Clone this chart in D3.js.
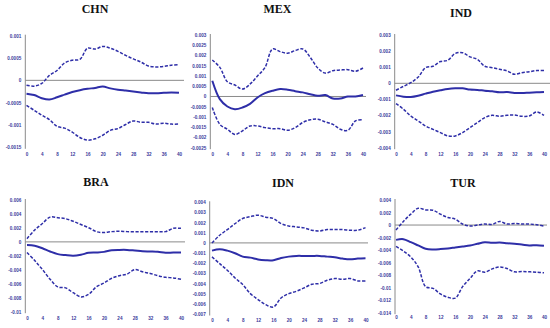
<!DOCTYPE html>
<html>
<head>
<meta charset="utf-8">
<script src="https://cdn.jsdelivr.net/npm/d3@7/dist/d3.min.js"></script>
<style>
  body { margin: 0; background: #fff; }
  svg { display: block; }
  .tick text { font-family: "Liberation Sans", Arial, sans-serif; font-weight: bold; font-size: 4.6px; fill: #3a3a9c; }
  .title { font-family: "Liberation Serif", "Times New Roman", serif; font-weight: bold; font-size: 12px; fill: #111; }
</style>
</head>
<body>
<svg id="chart" width="550" height="328"></svg>
<script>
// horizon (periods after the shock), read every 2 steps
var periods = [0, 2, 4, 6, 8, 10, 12, 14, 16, 18, 20, 22, 24, 26, 28, 30, 32, 34, 36, 38, 40];
var xTicks = [0, 4, 8, 12, 16, 20, 24, 28, 32, 36, 40];

var countries = ["CHN", "MEX", "IND", "BRA", "IDN", "TUR"];

var chnMean  = [-0.00030, -0.00033, -0.00040, -0.00043, -0.00038, -0.00032, -0.00026, -0.00022, -0.00019, -0.00017, -0.00014, -0.00018, -0.00021, -0.00023, -0.00025, -0.00027, -0.00029, -0.00029, -0.00028, -0.00027, -0.00028];
var chnUpper = [-0.00011, -0.00013, -0.00007, 0.00011, 0.00022, 0.00039, 0.00045, 0.00047, 0.00072, 0.00070, 0.00076, 0.00072, 0.00065, 0.00056, 0.00048, 0.00041, 0.00032, 0.00030, 0.00031, 0.00034, 0.00035];
var chnLower = [-0.00056, -0.00067, -0.00078, -0.00088, -0.00103, -0.00107, -0.00116, -0.00128, -0.00134, -0.00131, -0.00123, -0.00112, -0.00108, -0.00099, -0.00091, -0.00094, -0.00094, -0.00098, -0.00096, -0.00098, -0.00098];
var chnTicks = [0.001, 0.0005, 0, -0.0005, -0.001, -0.0015];

var mexMean  = [0.00077, -0.00013, -0.00049, -0.00062, -0.00054, -0.00036, -0.00005, 0.00016, 0.00028, 0.00036, 0.00033, 0.00026, 0.00020, 0.00011, 0.00003, 0.00007, -0.00010, -0.00010, 0.00000, 0.00000, 0.00007];
var mexUpper = [0.00178, 0.00142, 0.00072, 0.00056, 0.00036, 0.00060, 0.00100, 0.00142, 0.00232, 0.00219, 0.00211, 0.00224, 0.00232, 0.00191, 0.00139, 0.00114, 0.00126, 0.00129, 0.00131, 0.00123, 0.00139];
var mexLower = [-0.00054, -0.00136, -0.00160, -0.00185, -0.00168, -0.00144, -0.00144, -0.00152, -0.00157, -0.00157, -0.00165, -0.00152, -0.00127, -0.00114, -0.00111, -0.00124, -0.00136, -0.00160, -0.00165, -0.00119, -0.00114];
var mexTicks = [0.003, 0.0025, 0.002, 0.0015, 0.001, 0.0005, 0, -0.0005, -0.001, -0.0015, -0.002, -0.0025];

var indMean  = [-0.00075, -0.00083, -0.00085, -0.00077, -0.00064, -0.00052, -0.00043, -0.00035, -0.00031, -0.00031, -0.00039, -0.00041, -0.00046, -0.00050, -0.00056, -0.00054, -0.00060, -0.00060, -0.00058, -0.00056, -0.00054];
var indUpper = [-0.00043, -0.00019, 0.00004, 0.00039, 0.00097, 0.00106, 0.00135, 0.00143, 0.00185, 0.00190, 0.00164, 0.00149, 0.00106, 0.00097, 0.00087, 0.00077, 0.00056, 0.00066, 0.00072, 0.00079, 0.00079];
var indLower = [-0.00126, -0.00161, -0.00203, -0.00234, -0.00265, -0.00286, -0.00306, -0.00327, -0.00327, -0.00306, -0.00275, -0.00244, -0.00213, -0.00199, -0.00205, -0.00199, -0.00197, -0.00205, -0.00203, -0.00178, -0.00199];
var indTicks = [0.003, 0.002, 0.001, 0, -0.001, -0.002, -0.003, -0.004];

var braMean  = [-0.00046, -0.00055, -0.00092, -0.00138, -0.00175, -0.00189, -0.00198, -0.00184, -0.00157, -0.00152, -0.00143, -0.00120, -0.00115, -0.00115, -0.00124, -0.00134, -0.00138, -0.00143, -0.00157, -0.00152, -0.00152];
var braUpper = [0.00046, 0.00170, 0.00263, 0.00355, 0.00346, 0.00332, 0.00295, 0.00249, 0.00203, 0.00147, 0.00134, 0.00147, 0.00152, 0.00147, 0.00147, 0.00147, 0.00147, 0.00147, 0.00147, 0.00194, 0.00194];
var braLower = [-0.00152, -0.00267, -0.00396, -0.00535, -0.00645, -0.00659, -0.00728, -0.00788, -0.00751, -0.00645, -0.00590, -0.00521, -0.00484, -0.00461, -0.00396, -0.00429, -0.00452, -0.00484, -0.00507, -0.00516, -0.00535];
var braTicks = [0.006, 0.004, 0.002, 0, -0.002, -0.004, -0.006, -0.008, -0.01];

var idnMean  = [-0.00076, -0.00062, -0.00076, -0.00102, -0.00135, -0.00145, -0.00164, -0.00171, -0.00171, -0.00148, -0.00135, -0.00128, -0.00128, -0.00128, -0.00128, -0.00135, -0.00141, -0.00154, -0.00161, -0.00154, -0.00151];
var idnUpper = [0.00000, 0.00076, 0.00131, 0.00190, 0.00240, 0.00259, 0.00273, 0.00253, 0.00240, 0.00190, 0.00167, 0.00158, 0.00148, 0.00125, 0.00118, 0.00131, 0.00131, 0.00131, 0.00125, 0.00125, 0.00151];
var idnLower = [-0.00138, -0.00204, -0.00269, -0.00345, -0.00410, -0.00499, -0.00558, -0.00608, -0.00631, -0.00542, -0.00499, -0.00476, -0.00443, -0.00407, -0.00400, -0.00368, -0.00351, -0.00358, -0.00351, -0.00374, -0.00374];
var idnTicks = [0.004, 0.003, 0.002, 0.001, 0, -0.001, -0.002, -0.003, -0.004, -0.005, -0.006, -0.007];

var turMean  = [-0.00237, -0.00226, -0.00274, -0.00326, -0.00379, -0.00389, -0.00384, -0.00374, -0.00358, -0.00342, -0.00326, -0.00300, -0.00274, -0.00284, -0.00279, -0.00289, -0.00300, -0.00311, -0.00326, -0.00321, -0.00332];
var turUpper = [-0.00079, 0.00058, 0.00174, 0.00268, 0.00242, 0.00237, 0.00174, 0.00121, 0.00095, 0.00016, -0.00016, 0.00000, 0.00016, 0.00010, 0.00058, 0.00016, 0.00026, 0.00016, 0.00016, 0.00005, -0.00016];
var turLower = [-0.00342, -0.00416, -0.00511, -0.00668, -0.00984, -0.01011, -0.01100, -0.01153, -0.01168, -0.00984, -0.00853, -0.00732, -0.00753, -0.00700, -0.00668, -0.00695, -0.00747, -0.00742, -0.00747, -0.00753, -0.00763];
var turTicks = [0.004, 0.002, 0, -0.002, -0.004, -0.006, -0.008, -0.01, -0.012, -0.014];

var svg = d3.select("#chart");

var lineColor = "#2e2ea8",
    axisColor = "#8a8a8a";

// where each small chart sits in the 550x328 picture
var panels = [
  { name: countries[0], mean: chnMean, upper: chnUpper, lower: chnLower, ticks: chnTicks,
    axisX: 25.3, x0: 26.5, x1: 179, top: 35.7, bottom: 147.3, zeroEnd: 184, labelY: 154.2, titleX: 95, titleY: 13.3 },
  { name: countries[1], mean: mexMean, upper: mexUpper, lower: mexLower, ticks: mexTicks,
    axisX: 210.3, x0: 212.3, x1: 363, top: 35, bottom: 147.7, zeroEnd: 366, labelY: 154.3, titleX: 277.5, titleY: 13.3 },
  { name: countries[2], mean: indMean, upper: indUpper, lower: indLower, ticks: indTicks,
    axisX: 394.7, x0: 396, x1: 544, top: 35, bottom: 147.7, zeroEnd: 550, labelY: 154.5, titleX: 461, titleY: 16.7 },
  { name: countries[3], mean: braMean, upper: braUpper, lower: braLower, ticks: braTicks,
    axisX: 25.3, x0: 27, x1: 181, top: 200, bottom: 311.7, zeroEnd: 185, labelY: 318.3, titleX: 96, titleY: 185.7 },
  { name: countries[4], mean: idnMean, upper: idnUpper, lower: idnLower, ticks: idnTicks,
    axisX: 209.7, x0: 212, x1: 365.5, top: 202.3, bottom: 314, zeroEnd: 368, labelY: 320, titleX: 283, titleY: 187.3 },
  { name: countries[5], mean: turMean, upper: turUpper, lower: turLower, ticks: turTicks,
    axisX: 395, x0: 396, x1: 544, top: 200, bottom: 312.7, zeroEnd: 547, labelY: 317.7, titleX: 463, titleY: 186.7 }
];

panels.forEach(function(p) {
  var x = d3.scaleLinear()
    .domain([0, 40])
    .range([p.x0, p.x1]);

  var y = d3.scaleLinear()
    .domain([d3.min(p.ticks), d3.max(p.ticks)])
    .range([p.bottom, p.top]);

  var g = svg.append("g");

  g.append("text")
    .attr("class", "title")
    .attr("x", p.titleX)
    .attr("y", p.titleY)
    .attr("text-anchor", "middle")
    .text(p.name);

  // y axis
  var yAxis = d3.axisLeft(y)
    .tickValues(p.ticks)
    .tickFormat(function(d) { return String(d); })
    .tickSize(0)
    .tickPadding(4);

  var ya = g.append("g")
    .attr("transform", "translate(" + p.axisX + ",0)")
    .call(yAxis);
  ya.select(".domain").remove();

  g.append("line")
    .attr("x1", p.axisX).attr("x2", p.axisX)
    .attr("y1", p.top - 1).attr("y2", p.bottom + 1.5)
    .attr("stroke", axisColor)
    .attr("stroke-width", 1);

  // x labels, no axis line
  var xAxis = d3.axisBottom(x)
    .tickValues(xTicks)
    .tickSize(0)
    .tickPadding(0);

  var xa = g.append("g")
    .attr("transform", "translate(0," + (p.labelY - 1.7) + ")")
    .call(xAxis);
  xa.select(".domain").remove();

  // zero line
  g.append("line")
    .attr("x1", p.axisX).attr("x2", p.zeroEnd)
    .attr("y1", y(0)).attr("y2", y(0))
    .attr("stroke", axisColor)
    .attr("stroke-width", 1);

  var line = d3.line()
    .x(function(d, i) { return x(periods[i]); })
    .y(function(d) { return y(d); })
    .curve(d3.curveCatmullRom);

  g.append("path")
    .attr("d", line(p.upper))
    .attr("fill", "none")
    .attr("stroke", lineColor)
    .attr("stroke-width", 1.5)
    .attr("stroke-dasharray", "3.2,1.6");

  g.append("path")
    .attr("d", line(p.lower))
    .attr("fill", "none")
    .attr("stroke", lineColor)
    .attr("stroke-width", 1.5)
    .attr("stroke-dasharray", "3.2,1.6");

  g.append("path")
    .attr("d", line(p.mean))
    .attr("fill", "none")
    .attr("stroke", lineColor)
    .attr("stroke-width", 2);
});
</script>
</body>
</html>
